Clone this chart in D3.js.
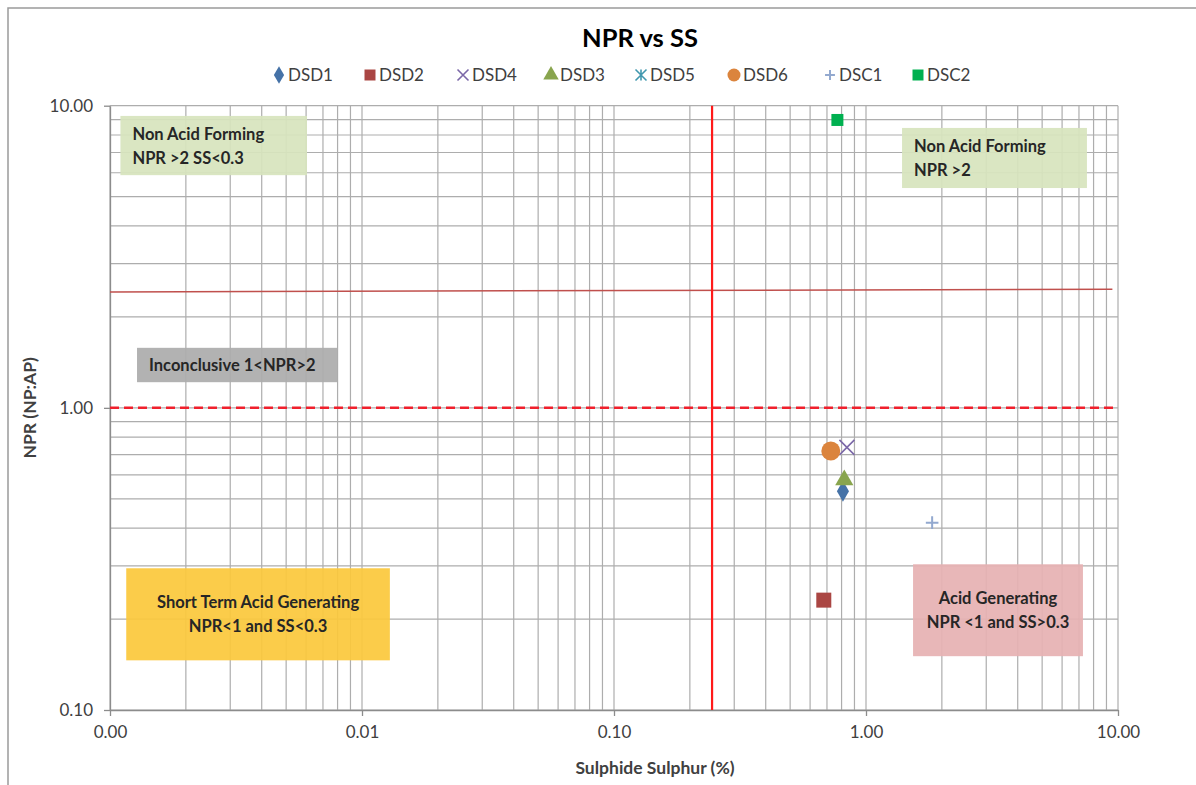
<!DOCTYPE html>
<html>
<head>
<meta charset="utf-8">
<script src="https://cdn.jsdelivr.net/npm/d3@7"></script>
<style>
  body { margin: 0; background: #fff; }
  svg { display: block; font-family: Lato, "Open Sans", sans-serif; }
</style>
</head>
<body>
<script>
// series, in legend order
const seriesNames = ["DSD1", "DSD2", "DSD4", "DSD3", "DSD5", "DSD6", "DSC1", "DSC2"];
const ssValues = [0.81, 0.68, 0.84, 0.82, 0.725, 0.725, 1.83, 0.77];   // Sulphide Sulphur (%)
const nprValues = [0.53, 0.231, 0.74, 0.577, 0.72, 0.72, 0.417, 8.97]; // NPR (NP:AP)
const seriesColors = ["#4572a7", "#aa4643", "#7b68a8", "#89a54e", "#4198af", "#db843d", "#93a9cf", "#00b050"];
const seriesShapes = ["diamond", "square", "cross", "triangle", "star", "circle", "plus", "square"];

const xTickValues = [0.001, 0.01, 0.1, 1, 10];
const yTickValues = [0.1, 1, 10];

// reference lines
const ssLimit = 0.245;
const nprLimit = 1;
const nprUpper = [[0.001, 2.42], [9.5, 2.47]];

// zone notes: [x0, x1, y0, y1] in data units, label lines
const zoneNames = ["nafLeft", "nafRight", "inconclusive", "stag", "ag"];
const zoneBoxes = [
  [0.0011, 0.00605, 5.89, 9.25],
  [1.39, 7.53, 5.34, 8.44],
  [0.00128, 0.00803, 1.216, 1.58],
  [0.00116, 0.0129, 0.146, 0.2945],
  [1.537, 7.26, 0.1507, 0.3036]
];
const zoneLabels = [
  ["Non Acid Forming", "NPR >2 SS<0.3"],
  ["Non Acid Forming", "NPR >2"],
  ["Inconclusive 1<NPR>2"],
  ["Short Term Acid Generating", "NPR<1 and SS<0.3"],
  ["Acid Generating", "NPR <1 and SS>0.3"]
];
const zoneColors = ["#d7e4bd", "#d7e4bd", "#acacac", "#fbc83c", "#e6b1b3"];
const zoneAlign = ["start", "start", "start", "middle", "middle"];

const W = 1196, H = 785;
const margin = { top: 105.7, right: 78, bottom: 75, left: 110 };

const svg = d3.select("body").append("svg")
  .attr("width", W)
  .attr("height", H);

// outer chart border
svg.append("rect")
  .attr("x", 8).attr("y", 8)
  .attr("width", W + 20).attr("height", H + 20)
  .attr("fill", "none")
  .attr("stroke", "#9a9a9a")
  .attr("stroke-width", 1.5);

const x = d3.scaleLog().domain([0.001, 10]).range([margin.left, W - margin.right]);
const y = d3.scaleLog().domain([0.1, 10]).range([H - margin.bottom, margin.top]);

// minor + major grid values
const xGrid = [];
for (let e = -3; e < 1; e++) for (let m = 1; m < 10; m++) xGrid.push(m * Math.pow(10, e));
xGrid.push(10);
const yGrid = [];
for (let e = -1; e < 1; e++) for (let m = 1; m < 10; m++) yGrid.push(m * Math.pow(10, e));
yGrid.push(10);

const grid = svg.append("g").attr("stroke", "#adadad").attr("stroke-width", 1.2);
grid.selectAll(".gx").data(xGrid).enter().append("line")
  .attr("x1", d => x(d)).attr("x2", d => x(d))
  .attr("y1", y(0.1)).attr("y2", y(10));
grid.selectAll(".gy").data(yGrid).enter().append("line")
  .attr("x1", x(0.001)).attr("x2", x(10))
  .attr("y1", d => y(d)).attr("y2", d => y(d));

// axes
const xAxis = svg.append("g")
  .attr("transform", `translate(0,${y(0.1)})`)
  .call(d3.axisBottom(x).tickValues(xTickValues).tickFormat(d3.format(".2f")).tickSizeInner(6).tickSizeOuter(0).tickPadding(10));
const yAxis = svg.append("g")
  .attr("transform", `translate(${x(0.001)},0)`)
  .call(d3.axisLeft(y).tickValues(yTickValues).tickFormat(d3.format(".2f")).tickSizeInner(6).tickSizeOuter(0).tickPadding(11));
[xAxis, yAxis].forEach(a => {
  a.attr("font-size", 17).attr("font-family", null);
  a.select(".domain").attr("stroke", "#8c8c8c").attr("stroke-width", 1.3);
  a.selectAll(".tick line").attr("stroke", "#8c8c8c").attr("stroke-width", 1.3);
  a.selectAll(".tick text").attr("fill", "#404040");
});

// zone notes
const zones = svg.append("g");
zoneNames.forEach((name, i) => {
  const b = zoneBoxes[i];
  const x0 = x(b[0]), x1 = x(b[1]), y0 = y(b[3]), y1 = y(b[2]);
  zones.append("rect")
    .attr("class", name)
    .attr("x", x0).attr("y", y0)
    .attr("width", x1 - x0).attr("height", y1 - y0)
    .attr("fill", zoneColors[i])
    .attr("opacity", 0.93);
  const lines = zoneLabels[i];
  const cy = (y0 + y1) / 2 - (lines.length - 1) * 12;
  const tx = zoneAlign[i] === "middle" ? (x0 + x1) / 2 : x0 + 12;
  zones.append("text")
    .attr("text-anchor", zoneAlign[i])
    .attr("fill", "#262626")
    .attr("font-size", 16.5)
    .attr("font-weight", "bold")
    .selectAll("tspan").data(lines).enter().append("tspan")
    .attr("x", tx)
    .attr("y", (d, j) => cy + j * 24 + 6)
    .text(d => d);
});

// reference lines
svg.append("line")
  .attr("x1", x(nprUpper[0][0])).attr("y1", y(nprUpper[0][1]))
  .attr("x2", x(nprUpper[1][0])).attr("y2", y(nprUpper[1][1]))
  .attr("stroke", "#c0504d").attr("stroke-width", 1.5);
svg.append("line")
  .attr("x1", x(0.001)).attr("x2", x(10))
  .attr("y1", y(nprLimit)).attr("y2", y(nprLimit))
  .attr("stroke", "#f0202c").attr("stroke-width", 2.5)
  .attr("stroke-dasharray", "9,5");
svg.append("line")
  .attr("x1", x(ssLimit)).attr("x2", x(ssLimit))
  .attr("y1", y(10)).attr("y2", y(0.1))
  .attr("stroke", "#ff1a1a").attr("stroke-width", 2.2);

// marker drawing
function marker(g, shape, color, size) {
  if (shape === "cross") {
    const s = size * 0.5;
    g.append("path").attr("d", `M${-s},${-s}L${s},${s}M${-s},${s}L${s},${-s}`)
      .attr("stroke", color).attr("stroke-width", 1.6).attr("fill", "none");
  } else if (shape === "plus") {
    const s = size * 0.45;
    g.append("path").attr("d", `M${-s},0L${s},0M0,${-s}L0,${s}`)
      .attr("stroke", color).attr("stroke-width", 2).attr("fill", "none");
  } else if (shape === "star") {
    const s = size * 0.5;
    g.append("path").attr("d", `M${-s},${-s}L${s},${s}M${-s},${s}L${s},${-s}M0,${-s}L0,${s}`)
      .attr("stroke", color).attr("stroke-width", 1.6).attr("fill", "none");
  } else {
    const types = { diamond: d3.symbolDiamond, square: d3.symbolSquare, triangle: d3.symbolTriangle, circle: d3.symbolCircle };
    const areas = { diamond: size * size * 0.75, square: size * size, triangle: size * size * 0.85, circle: size * size * 1.1 };
    g.append("path").attr("d", d3.symbol().type(types[shape]).size(areas[shape])())
      .attr("fill", color);
  }
}

// points
const pointSizes = [13, 15, 15, 13, 12, 16, 14, 12];
seriesNames.forEach((name, i) => {
  const g = svg.append("g")
    .attr("class", name)
    .attr("transform", `translate(${x(ssValues[i])},${y(nprValues[i])})`);
  marker(g, seriesShapes[i], seriesColors[i], pointSizes[i]);
});

// legend
const legendX = [279, 370, 463, 551, 641, 734, 830, 918];
const legend = svg.append("g");
seriesNames.forEach((name, i) => {
  const g = legend.append("g").attr("transform", `translate(${legendX[i]},75)`);
  marker(g, seriesShapes[i], seriesColors[i], 11);
  g.append("text")
    .attr("x", 9).attr("y", 6)
    .attr("fill", "#404040")
    .attr("font-size", 17)
    .text(name);
});

// title and axis titles
svg.append("text")
  .attr("x", 640).attr("y", 47)
  .attr("text-anchor", "middle")
  .attr("fill", "#000")
  .attr("font-size", 25.5)
  .attr("font-weight", "bold")
  .text("NPR vs SS");

svg.append("text")
  .attr("x", 655).attr("y", 774)
  .attr("text-anchor", "middle")
  .attr("fill", "#404040")
  .attr("font-size", 17.5)
  .attr("font-weight", "bold")
  .text("Sulphide Sulphur (%)");

svg.append("text")
  .attr("transform", `translate(36,${y(1)}) rotate(-90)`)
  .attr("text-anchor", "middle")
  .attr("fill", "#404040")
  .attr("font-size", 17.5)
  .attr("font-weight", "bold")
  .text("NPR (NP:AP)");
</script>
</body>
</html>
